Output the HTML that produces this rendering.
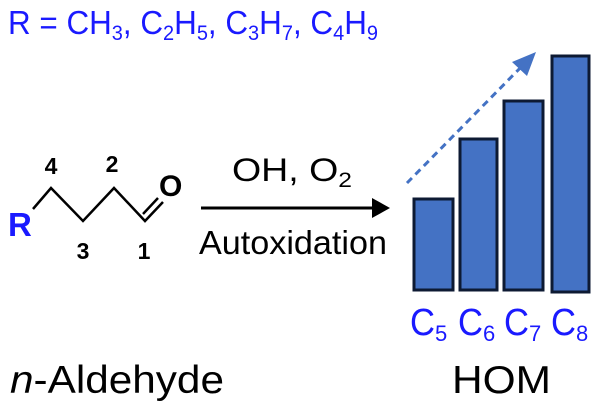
<!DOCTYPE html>
<html><head><style>html,body{margin:0;padding:0;background:#fff}svg{display:block}</style></head>
<body>
<svg width="600" height="411" viewBox="0 0 600 411" xmlns="http://www.w3.org/2000/svg" font-family="Liberation Sans, sans-serif">
<text x="8" y="34" font-size="33" fill="#1a1aff" textLength="370" lengthAdjust="spacingAndGlyphs">R = CH<tspan font-size="21" dy="6">3</tspan><tspan dy="-6">, C</tspan><tspan font-size="21" dy="6">2</tspan><tspan dy="-6">H</tspan><tspan font-size="21" dy="6">5</tspan><tspan dy="-6">, C</tspan><tspan font-size="21" dy="6">3</tspan><tspan dy="-6">H</tspan><tspan font-size="21" dy="6">7</tspan><tspan dy="-6">, C</tspan><tspan font-size="21" dy="6">4</tspan><tspan dy="-6">H</tspan><tspan font-size="21" dy="6">9</tspan></text>
<text x="8" y="236" font-size="33" font-weight="bold" fill="#1a1aff">R</text>
<polyline points="33,209 51,188 83,221 114,188 145,221 163,202" fill="none" stroke="#000" stroke-width="2.5"/>
<line x1="143" y1="214" x2="158" y2="198" stroke="#000" stroke-width="2.5"/>
<text x="159" y="196" font-size="30" font-weight="bold">O</text>
<g font-size="23" font-weight="bold" text-anchor="middle">
<text x="51" y="174">4</text><text x="112" y="172">2</text><text x="83" y="259">3</text><text x="144" y="259">1</text></g>
<line x1="201" y1="208" x2="374" y2="208" stroke="#000" stroke-width="3"/>
<polygon points="372,198 390,208 372,218" fill="#000"/>
<text x="232" y="181" font-size="32" textLength="120" lengthAdjust="spacingAndGlyphs">OH, O<tspan font-size="21" dy="6">2</tspan></text>
<text x="199" y="254" font-size="33" textLength="188" lengthAdjust="spacingAndGlyphs">Autoxidation</text>
<line x1="407" y1="183" x2="528" y2="60" stroke="#4472c4" stroke-width="3" stroke-dasharray="7,5"/>
<polygon points="536,52 512,62 527,76" fill="#4472c4"/>
<g fill="#4472c4" stroke="#0d1a33" stroke-width="3">
<rect x="414" y="199" width="39" height="91"/>
<rect x="460" y="139" width="37" height="151"/>
<rect x="504" y="101" width="39" height="189"/>
<rect x="552" y="56" width="37" height="236"/>
</g>
<g font-size="38" fill="#1a1aff">
<text x="410" y="335" textLength="25" lengthAdjust="spacingAndGlyphs">C</text><text x="435" y="341" font-size="22">5</text>
<text x="458" y="335" textLength="25" lengthAdjust="spacingAndGlyphs">C</text><text x="483" y="341" font-size="22">6</text>
<text x="504" y="335" textLength="25" lengthAdjust="spacingAndGlyphs">C</text><text x="529" y="341" font-size="22">7</text>
<text x="551" y="335" textLength="25" lengthAdjust="spacingAndGlyphs">C</text><text x="576" y="341" font-size="22">8</text>
</g>
<text x="10" y="393" font-size="39" textLength="214" lengthAdjust="spacingAndGlyphs"><tspan font-style="italic">n</tspan>-Aldehyde</text>
<text x="452" y="393" font-size="39" textLength="99" lengthAdjust="spacingAndGlyphs">HOM</text>
</svg>
</body></html>
